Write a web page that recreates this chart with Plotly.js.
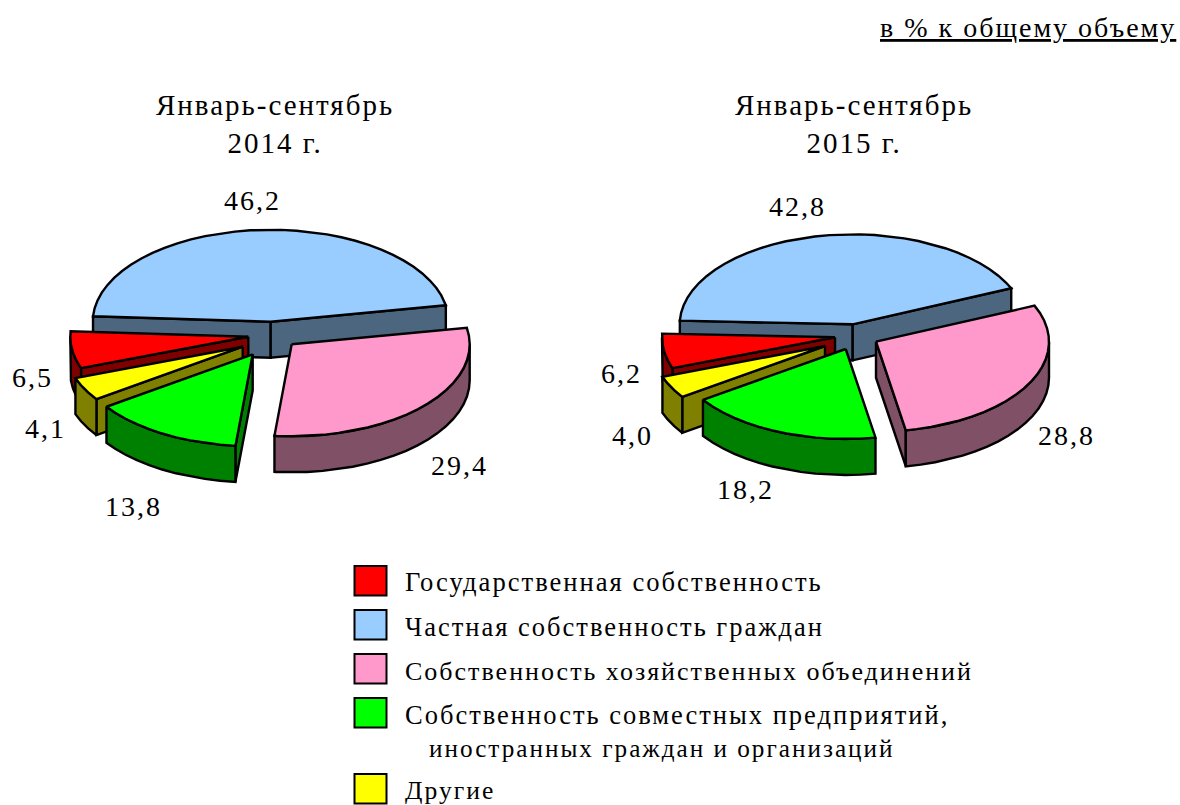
<!DOCTYPE html>
<html>
<head>
<meta charset="utf-8">
<script src="https://cdn.plot.ly/plotly-3.0.1.min.js"></script>
<style>html,body{margin:0;padding:0;background:#fff}#chart{width:1180px;height:805px}
svg text{letter-spacing:2px}</style>
</head>
<body>
<div id="chart"></div>
<script>
// ---- data ----
const categories = ['Государственная собственность','Частная собственность граждан','Собственность хозяйственных объединений','Собственность совместных предприятий,<br>иностранных граждан и организаций','Другие'];
const share2014 = [6.5, 46.2, 29.4, 13.8, 4.1];
const share2015 = [6.2, 42.8, 28.8, 18.2, 4.0];
const period2014 = 'Январь-сентябрь<br>2014 г.';
const period2015 = 'Январь-сентябрь<br>2015 г.';
const unitNote = '<u>в % к общему объему</u>';

// ---- styles and layout ----
const topColors = ['#FF0000','#99CCFF','#FF99CC','#00FF00','#FFFF00'];
const sideColors = ['#800000','#4D6680','#805066','#008000','#808000'];
const FONT = '"Liberation Serif","Times New Roman",serif';
const pies = [
  {values: share2014, title: period2014, titleX: 275, titleY: 124, a: 178, b: 92, depth: 36, rot: 250,
   apex: [[248.3,336.7],[270.7,321.7],[291.7,344.3],[252.7,354.3],[242.7,346.7]],
   labelPos: [[32,377],[252,200],[459,465],[133,506],[45,428]]},
  {values: share2015, title: period2015, titleX: 854, titleY: 124, a: 173, b: 90, depth: 36, rot: 250,
   apex: [[835,337.3],[852.7,324.3],[876,341.7],[845.7,349],[825,346]],
   labelPos: [[621,373],[797,206],[1066,435],[745,489],[632,435]]}
];
const drawOrder = [1,2,0,4,3];
const legendRows = [[566,582,26.6],[610,627,26.5],[654,671,26],[698,0,26.5],[774,790,25.6]];
const wrappedRowSize = 25.2;

const rad = d => d*Math.PI/180;
function onRim(p, i, deg){
  return [p.apex[i][0] + p.a*Math.sin(rad(deg)), p.apex[i][1] - p.b*Math.cos(rad(deg))];
}
function poly(points, fill, name){
  const closed = points.concat([points[0]]);
  return {type:'scatter', mode:'lines', x:closed.map(q=>q[0]), y:closed.map(q=>q[1]),
    fill:'toself', fillcolor:fill, line:{color:'#000',width:2.4,shape:'linear'},
    hoverinfo:'skip', showlegend:false, name:name};
}
function arc(p,i,from,to){
  const pts=[]; const step=5;
  for(let d=from; d<to; d+=step) pts.push(onRim(p,i,d));
  pts.push(onRim(p,i,to));
  return pts;
}
const traces=[];
pies.forEach(p=>{
  const total=p.values.reduce((s,v)=>s+v,0);
  const bounds=[]; let acc=p.rot;
  p.values.forEach(v=>{const s=acc; acc+=v/total*360; bounds.push([s,acc]);});
  drawOrder.forEach(i=>{
    const [s,e]=bounds[i]; const ap=p.apex[i]; const D=p.depth;
    const name=categories[i];
    const face=(deg)=>{const c=onRim(p,i,deg);
      traces.push(poly([ap,c,[c[0],c[1]+D],[ap[0],ap[1]+D]],sideColors[i],name));};
    if(Math.sin(rad(s))<0) face(s);
    if(Math.sin(rad(e))>0) face(e);
    [[90,270],[450,630]].forEach(([lo,hi])=>{
      const f=Math.max(s,lo), t=Math.min(e,hi);
      if(t>f){
        const top=arc(p,i,f,t);
        const low=top.map(q=>[q[0],q[1]+D]).reverse();
        traces.push(poly(top.concat(low),sideColors[i],name));
      }
    });
    traces.push(poly([ap].concat(arc(p,i,s,e)),topColors[i],name));
  });
});

const annotations=[];
const txt=(text,x,y,size,anchor,extra)=>Object.assign({text:text,x:x,y:y,xref:'x',yref:'y',xanchor:anchor||'center',yanchor:'middle',
  showarrow:false,font:{family:FONT,size:size,color:'#000'},align:'center',borderpad:0},extra||{});
annotations.push(txt(unitNote,1177,27,28,'right'));
pies.forEach(p=>{
  annotations.push(txt(p.title,p.titleX,p.titleY,29,'center'));
  p.values.forEach((v,i)=>annotations.push(txt(v.toFixed(1).replace('.',','),p.labelPos[i][0],p.labelPos[i][1],28)));
});
const shapes=[];
categories.forEach((c,i)=>{
  const r=legendRows[i];
  shapes.push({type:'rect',xref:'x',yref:'y',x0:354.5,x1:386.5,y0:r[0],y1:r[0]+29.5,fillcolor:topColors[i],line:{color:'#000',width:2}});
  if(c.indexOf('<br>')<0){
    annotations.push(txt(c,404,r[1],r[2],'left'));
  } else {
    const parts=c.split('<br>');
    annotations.push(txt(parts[0],404,715,r[2],'left'));
    annotations.push(txt(parts[1],428,748,wrappedRowSize,'left'));
  }
});

Plotly.newPlot('chart',traces,{
  width:1180,height:805,margin:{l:0,r:0,t:0,b:0,pad:0},
  paper_bgcolor:'#fff',plot_bgcolor:'#fff',showlegend:false,
  xaxis:{range:[0,1180],visible:false,fixedrange:true},
  yaxis:{range:[805,0],visible:false,fixedrange:true},
  shapes:shapes,annotations:annotations
},{staticPlot:true,displayModeBar:false});
</script>
</body>
</html>
